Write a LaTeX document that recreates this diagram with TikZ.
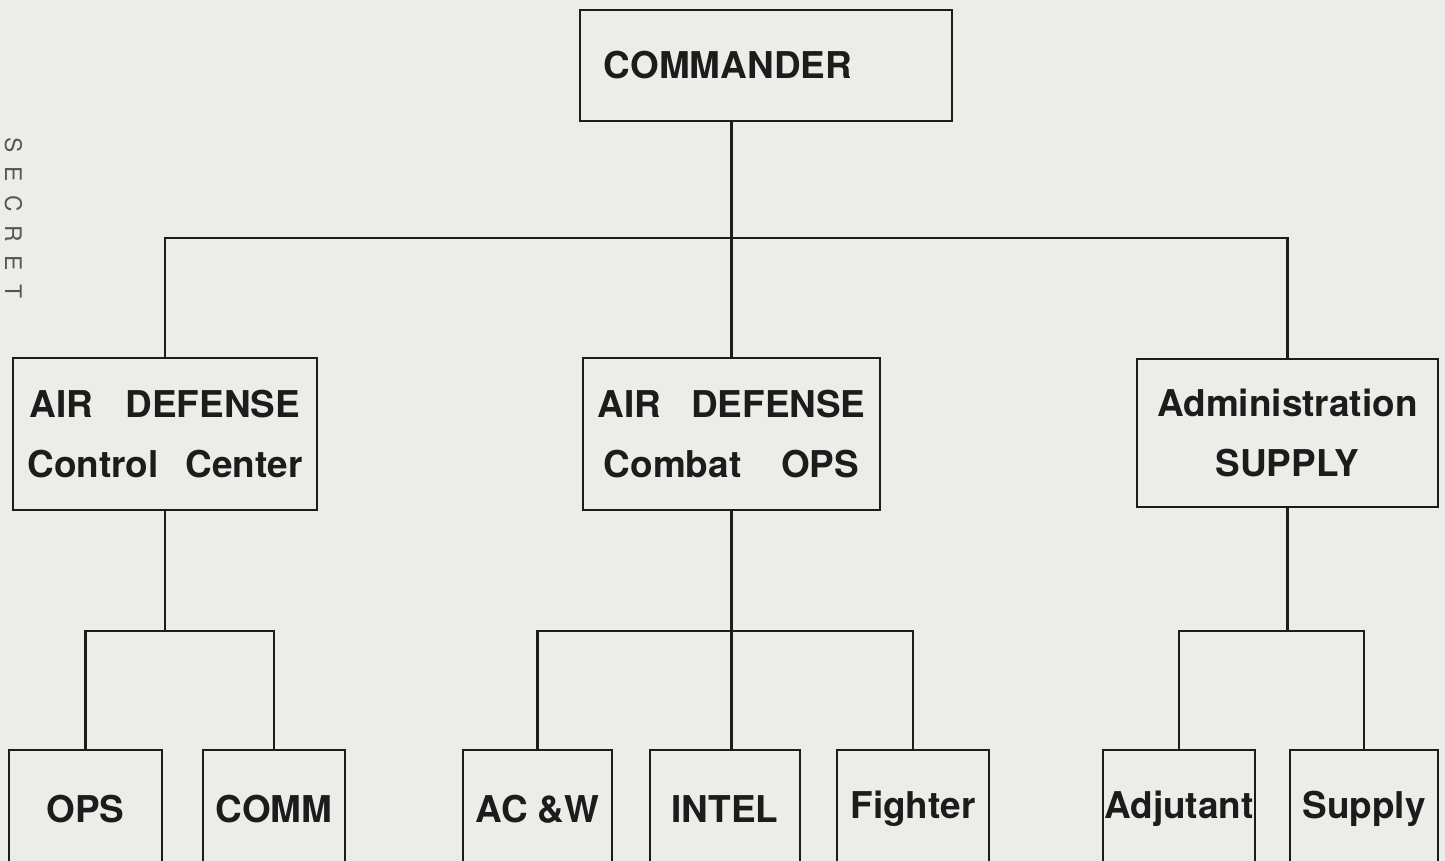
\documentclass[tikz,border=0pt]{standalone}
\usepackage{fontspec}
\setmainfont{TeX Gyre Heros}
\definecolor{paper}{RGB}{236,236,233}
\definecolor{ink}{RGB}{28,28,28}
\definecolor{stamp}{RGB}{85,85,85}
\usetikzlibrary{positioning,calc}

\begin{document}
\begin{tikzpicture}[x=0.01cm, y=-0.01cm,
  unit/.style={draw=ink, line width=0.7pt, text=ink, align=center, inner sep=0pt,
    font=\fontsize{10.5}{17}\selectfont\bfseries},
  cell/.style={unit, minimum height=1.18cm, font=\fontsize{10.5}{13}\selectfont\bfseries},
  link/.style={draw=ink, line width=0.7pt}]
  \fill[paper] (0,0) rectangle (1445,861);
  \useasboundingbox (0,0) rectangle (1445,861);
  % stamp at the left edge
  \node[rotate=-90, anchor=south, inner sep=0pt, text=stamp,
    font=\fontsize{6.5}{6.5}\selectfont\addfontfeature{LetterSpace=60}] (stamp) at (4,218) {SECRET};
  % top
  \node[unit, minimum width=3.72cm, minimum height=1.11cm] (cmd) at (766,65.5) {COMMANDER\hspace*{0.76cm}};
  % middle row
  \node[unit, minimum width=3.04cm, minimum height=1.52cm] (adcc) at (165,434)
    {\makebox[2.7cm][s]{AIR DEFENSE}\\\makebox[2.75cm][s]{Control Center}};
  \node[unit, minimum width=2.97cm, minimum height=1.52cm] (adco) at (731.5,434)
    {\makebox[2.68cm][s]{AIR DEFENSE}\\\makebox[2.55cm][s]{Combat OPS}};
  \node[unit, minimum width=3.01cm, minimum height=1.48cm] (admin) at (1287.5,433)
    {Administration\\SUPPLY};
  % bottom row
  \node[cell, minimum width=1.53cm] (ops) at (85.5,809) {OPS};
  \node[cell, minimum width=1.42cm] (comm) at (274,809) {COMM};
  \node[cell, minimum width=1.49cm] (acw) at (537.5,809) {AC \&W};
  \node[cell, minimum width=1.50cm] (intel) at (725,809) {INTEL};
  \node[cell, minimum width=1.52cm] (fighter) at (913,809) {Fighter};
  \node[cell, minimum width=1.52cm] (adj) at (1179,809) {Adjutant};
  \node[cell, minimum width=1.48cm] (sup) at (1364,809) {Supply};
  % connectors
  \coordinate (bar) at (732,238);
  \coordinate (lowbar) at (0,631);
  \draw[link] (cmd.south -| adco.north) -- (adco.north);
  \draw[link] (adcc.north) -- (adcc.north |- bar) -- (admin.north |- bar) -- (admin.north);
  \draw[link] (adcc.south) -- (adcc.south |- lowbar);
  \draw[link] (ops.north) -- (ops.north |- lowbar) -- (comm.north |- lowbar) -- (comm.north);
  \draw[link] (adco.south) -- (adco.south |- intel.north);
  \draw[link] (acw.north) -- (acw.north |- lowbar) -- (fighter.north |- lowbar) -- (fighter.north);
  \draw[link] (admin.south) -- (admin.south |- lowbar);
  \draw[link] (adj.north) -- (adj.north |- lowbar) -- (sup.north |- lowbar) -- (sup.north);
\end{tikzpicture}
\end{document}
